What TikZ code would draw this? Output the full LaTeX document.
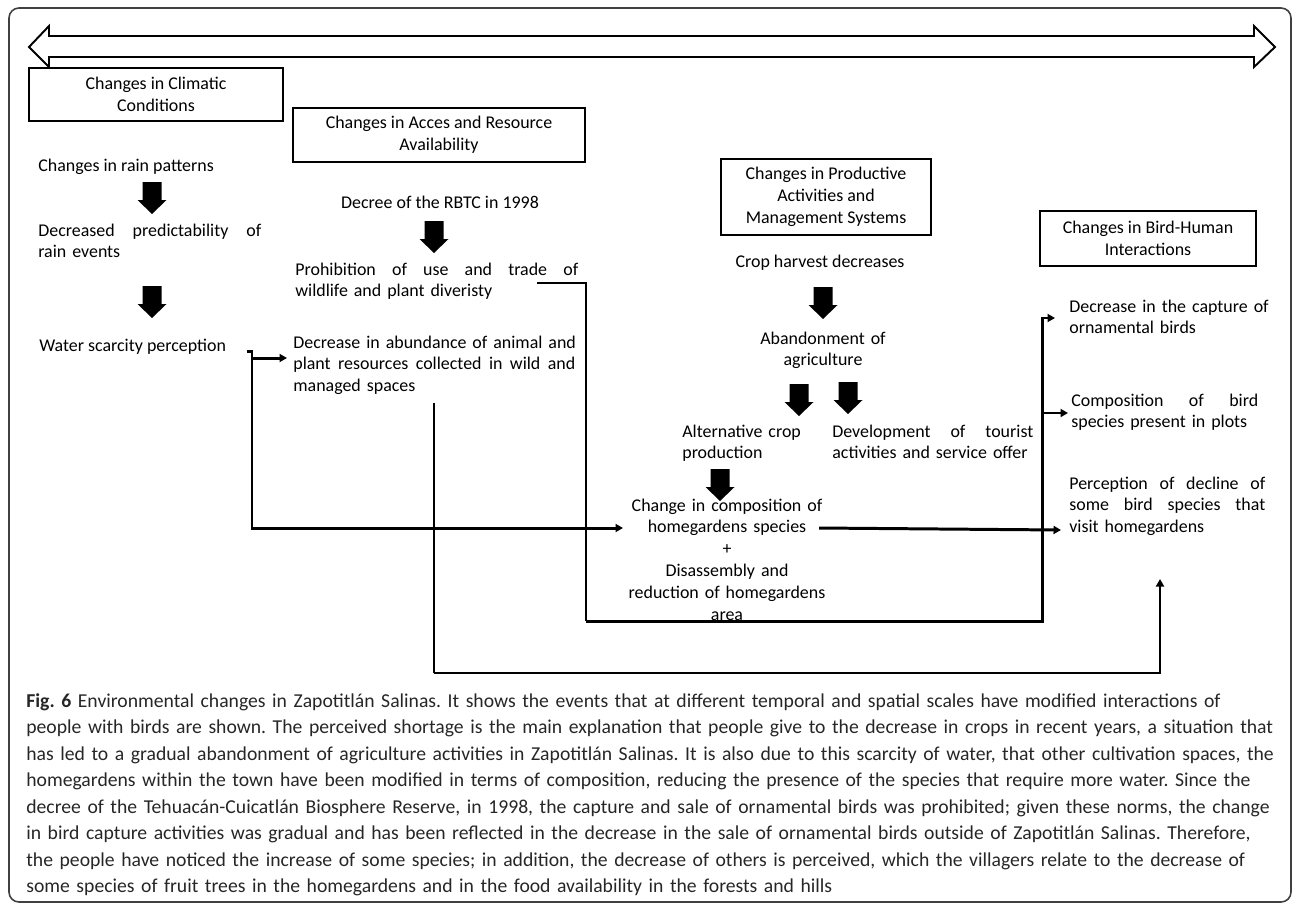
\documentclass[tikz,border=0pt]{standalone}
\usepackage{fontspec}
\setmainfont{Carlito}
\usetikzlibrary{arrows.meta,calc}
\newcommand\jline[2]{\leavevmode\hbox to #1{#2}}
\begin{document}
\frenchspacing
\begin{tikzpicture}[x=0.02cm,y=-0.02cm,
  txt/.style={inner sep=0pt, font=\fontsize{10.2pt}{12.5pt}\selectfont},
  hbox/.style={draw, line width=0.9pt, inner sep=0pt, align=center, font=\fontsize{10.2pt}{12.5pt}\selectfont},
  thk/.style={line width=1.7pt, line join=miter},
  mid/.style={line width=1.1pt, line join=miter},
  thn/.style={line width=0.6pt},
  tip/.style={-{Triangle[length=0.15cm,width=0.16cm]}},
  pics/blockarrow/.style={code={\fill (-9.5,0) -- (9.5,0) -- (9.5,18) -- (14.5,18) -- (0,32) -- (-14.5,18) -- (-9.5,18) -- cycle;}}
]
\useasboundingbox (0,0) rectangle (1293,906);
% outer frame
\draw[line width=0.9pt, black!75, rounded corners=0.2cm] (9,8) rectangle (1291,902);
% timeline double arrow
\draw[line width=1.1pt, line join=miter] (29,47) -- (49,26) -- (49,36) -- (1254,36) -- (1254,26) -- (1275,47) -- (1254,67) -- (1254,57) -- (49,57) -- (49,67) -- cycle;

% header boxes
\node[hbox, minimum width=5.08cm, minimum height=1.06cm, fill=white] (h1) at (156,94.5) {Changes in Climatic\\Conditions};
\node[hbox, minimum width=5.84cm, minimum height=1.08cm] (h2) at (439,135) {Changes in Acces and Resource\\Availability};
\node[hbox, minimum width=4.2cm, minimum height=1.52cm] (h3) at (826,197) {Changes in Productive\\Activities and\\Management Systems};
\node[hbox, minimum width=4.32cm, minimum height=1.1cm] (h4) at (1148,238.5) {Changes in Bird-Human\\Interactions};

% text nodes
\node[txt, anchor=base west] (rain) at (38,171) {Changes in rain patterns};
\node[txt, anchor=base west, text width=4.46cm, align=left] (pred) at (38,236) {\jline{4.46cm}{Decreased \hfil predictability \hfil of}\\rain events};
\node[txt, anchor=base west] (water) at (39,351) {Water scarcity perception};
\node[txt, anchor=base] (decree) at (440,208) {Decree of the RBTC in 1998};
\node[txt, anchor=base west, text width=5.66cm, align=left] (prohib) at (295,275) {\jline{5.66cm}{Prohibition \hfil of \hfil use \hfil and \hfil trade \hfil of}\\wildlife and plant diveristy};
\node[txt, anchor=base west, text width=5.64cm, align=left] (abund) at (293,348) {\jline{5.64cm}{Decrease \hfil in \hfil abundance \hfil of \hfil animal \hfil and}\\\jline{5.64cm}{plant \hfil resources \hfil collected \hfil in \hfil wild \hfil and}\\managed spaces};
\node[txt, anchor=base] (crop) at (820,267) {Crop harvest decreases};
\node[txt, anchor=base, text width=3cm, align=center] (aband) at (823,344) {Abandonment of\\agriculture};
\node[txt, anchor=base west, text width=2.5cm, align=left] (alt) at (682,437) {Alternative crop\\production};
\node[txt, anchor=base west, text width=4.02cm, align=left] (tour) at (832,437) {\jline{4.02cm}{Development \hfil of \hfil tourist}\\activities and service offer};
\node[txt, anchor=base, text width=4cm, align=center] (homeg) at (727,511) {Change in composition of\\homegardens species\\+\\Disassembly and\\reduction of homegardens\\area};
\node[txt, anchor=base west, text width=3.92cm, align=left] (capt) at (1069,312) {\jline{3.92cm}{Decrease \hfil in \hfil the \hfil capture \hfil of}\\ornamental birds};
\node[txt, anchor=base west, text width=3.74cm, align=left] (comp) at (1071,406) {\jline{3.74cm}{Composition \hfil of \hfil bird}\\species present in plots};
\node[txt, anchor=base west, text width=3.92cm, align=left] (perc) at (1069,489) {\jline{3.92cm}{Perception \hfil of \hfil decline \hfil of}\\\jline{3.92cm}{some \hfil bird \hfil species \hfil that}\\visit homegardens};

% block arrows
\pic at (152,182) {blockarrow};
\pic at (152,286) {blockarrow};
\pic at (434,221) {blockarrow};
\pic at (823,287) {blockarrow};
\pic at (799,384) {blockarrow};
\pic at (848,382) {blockarrow};
\pic at (720,469) {blockarrow};

% connector points
\coordinate (wa) at (247,351);
\coordinate (wb) at (252,351);
\coordinate (wc) at (252,528);
\coordinate (hin) at (623,528);
\coordinate (ain) at (287,358);
\coordinate (pa) at (537,283);
\coordinate (pb) at (586,283);
\coordinate (pc) at (586,621);
\coordinate (vb) at (1042,621);
\coordinate (vt) at (1042,318);
\coordinate (cin) at (1055,318);
\coordinate (vm) at (1042,413);
\coordinate (compin) at (1068,413);
\coordinate (hout) at (819,528);
\coordinate (pin) at (1061,530);
\coordinate (da) at (434,403);
\coordinate (db) at (434,673);
\coordinate (dc) at (1160,673);
\coordinate (dd) at (1160,579);

% connectors
\draw[thk,tip] (wa) -- (wb) -- (wc) -- (hin);
\draw[thk,tip] (wb |- ain) -- (ain);
\draw[thn] (pa) -- (pb) -- (pc);
\draw[thk,tip] (pc) -- (vb) -- (vt) -- (cin);
\draw[mid,tip] (vm) -- (compin);
\draw[thk,tip] (hout) -- (pin);
\draw[thn] (da) -- (db);
\draw[mid,tip] (db) -- (dc) -- (dd);

% caption
\node[anchor=base west, inner sep=0pt, text width=27cm, align=left, font=\fontsize{11.2pt}{15.1pt}\selectfont, text=black!85] (cap) at (26,707) {\textbf{Fig. 6} Environmental changes in Zapotitlán Salinas. It shows the events that at different temporal and spatial scales have modified interactions of\\people with birds are shown. The perceived shortage is the main explanation that people give to the decrease in crops in recent years, a situation that\\has led to a gradual abandonment of agriculture activities in Zapotitlán Salinas. It is also due to this scarcity of water, that other cultivation spaces, the\\homegardens within the town have been modified in terms of composition, reducing the presence of the species that require more water. Since the\\decree of the Tehuacán-Cuicatlán Biosphere Reserve, in 1998, the capture and sale of ornamental birds was prohibited; given these norms, the change\\in bird capture activities was gradual and has been reflected in the decrease in the sale of ornamental birds outside of Zapotitlán Salinas. Therefore,\\the people have noticed the increase of some species; in addition, the decrease of others is perceived, which the villagers relate to the decrease of\\some species of fruit trees in the homegardens and in the food availability in the forests and hills};
\end{tikzpicture}
\end{document}
